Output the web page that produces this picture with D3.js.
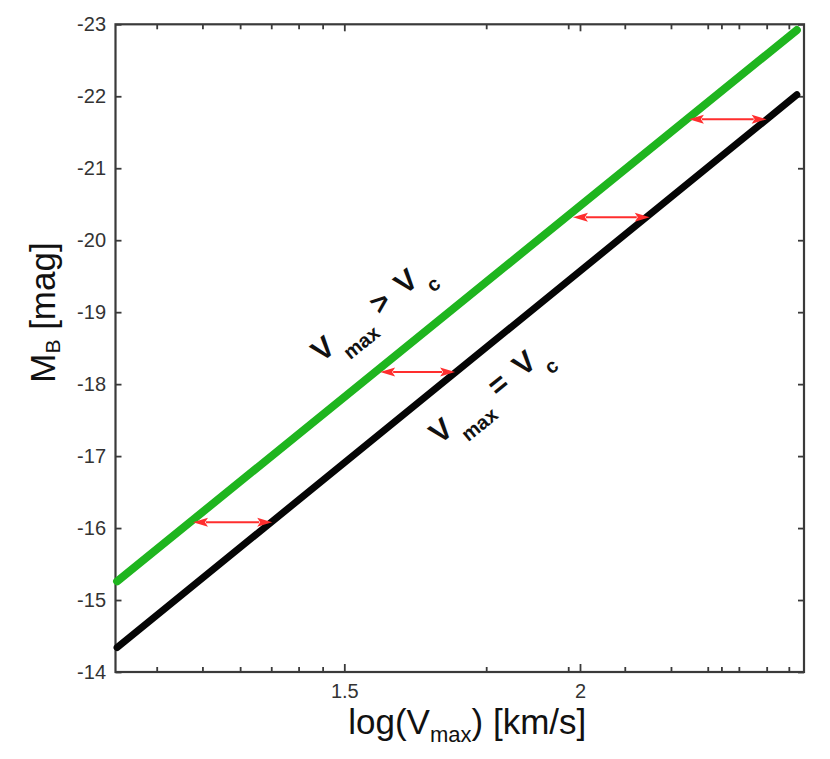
<!DOCTYPE html>
<html>
<head>
<meta charset="utf-8">
<script src="https://cdn.jsdelivr.net/npm/d3@7"></script>
<style>
  html, body { margin: 0; padding: 0; background: #fff; }
  svg { display: block; }
  text { font-family: "Liberation Sans", Arial, Helvetica, sans-serif; }
</style>
</head>
<body>
<svg id="chart" width="830" height="759"></svg>
<script>
// ---------- data ----------
const xDomain = [1.0146, 2.4752];
const yDomain = [-14, -23];

const yTicks = [-14, -15, -16, -17, -18, -19, -20, -21, -22, -23];
const yTickLabels = ["-14", "-15", "-16", "-17", "-18", "-19", "-20", "-21", "-22", "-23"];
const xMajorTicks = [1.5, 2];
const xMajorLabels = ["1.5", "2"];
const xMinorTicks = [1.102, 1.199, 1.279, 1.345, 1.403, 1.454, 1.801, 1.975,
                     2.095, 2.193, 2.271, 2.300, 2.337, 2.396, 2.443];

// line endpoints: log(Vmax) and M_B
const lineLogV = [1.018, 2.460];
const greenM   = [-15.26, -22.92];   // Vmax > Vc
const blackM   = [-14.34, -22.02];   // Vmax = Vc

// red double arrows between the two relations
const arrowM    = [-16.08, -18.17, -20.32, -21.68];
const arrowFrom = [1.179, 1.576, 1.985, 2.231];
const arrowTo   = [1.347, 1.735, 2.148, 2.396];

// rotated labels (anchor in data coordinates)
const labelLogV = [1.4516, 1.702];
const labelM    = [-18.293, -17.154];
const labelOp   = [">", "="];

// ---------- layout ----------
const svg = d3.select("#chart");
const plot = { left: 115.5, right: 804, top: 24.3, bottom: 672 };

const x = d3.scaleLinear().domain(xDomain).range([plot.left, plot.right]);
const y = d3.scaleLinear().domain(yDomain).range([plot.bottom, plot.top]);

const axisColor = "#3a3a3a";
const tickFont = "20px";

// ---------- axes ----------
function styleAxis(g) {
  g.select(".domain").remove();
  g.selectAll(".tick line").attr("stroke", axisColor).attr("stroke-width", 1.8);
  g.selectAll(".tick text").attr("fill", "#333").style("font-size", tickFont);
}

// left
svg.append("g")
  .attr("transform", `translate(${plot.left},0)`)
  .call(d3.axisLeft(y).tickValues(yTicks).tickSize(-6).tickPadding(9.5)
        .tickFormat((d, i) => yTickLabels[i]))
  .call(styleAxis);
// right
svg.append("g")
  .attr("transform", `translate(${plot.right},0)`)
  .call(d3.axisRight(y).tickValues(yTicks).tickSize(-6).tickFormat(""))
  .call(styleAxis);
// bottom major
svg.append("g")
  .attr("transform", `translate(0,${plot.bottom})`)
  .call(d3.axisBottom(x).tickValues(xMajorTicks).tickSize(-8).tickPadding(11.5)
        .tickFormat((d, i) => xMajorLabels[i]))
  .call(styleAxis);
// bottom minor
svg.append("g")
  .attr("transform", `translate(0,${plot.bottom})`)
  .call(d3.axisBottom(x).tickValues(xMinorTicks).tickSize(-5).tickFormat(""))
  .call(g => g.selectAll("text").remove())
  .call(styleAxis);
// top major + minor
svg.append("g")
  .attr("transform", `translate(0,${plot.top})`)
  .call(d3.axisTop(x).tickValues(xMajorTicks).tickSize(-7).tickFormat(""))
  .call(g => g.selectAll("text").remove())
  .call(styleAxis);
svg.append("g")
  .attr("transform", `translate(0,${plot.top})`)
  .call(d3.axisTop(x).tickValues(xMinorTicks).tickSize(-5).tickFormat(""))
  .call(g => g.selectAll("text").remove())
  .call(styleAxis);

// frame
svg.append("rect")
  .attr("x", plot.left).attr("y", plot.top)
  .attr("width", plot.right - plot.left).attr("height", plot.bottom - plot.top)
  .attr("fill", "none").attr("stroke", axisColor).attr("stroke-width", 2.2);

// ---------- lines ----------
const lineGen = d3.line().x(d => x(d[0])).y(d => y(d[1]));
const blackPts = lineLogV.map((v, i) => [v, blackM[i]]);
const greenPts = lineLogV.map((v, i) => [v, greenM[i]]);

svg.append("path").datum(blackPts).attr("d", lineGen)
  .attr("fill", "none").attr("stroke", "#050505").attr("stroke-width", 7).attr("stroke-linecap", "round");
svg.append("path").datum(greenPts).attr("d", lineGen)
  .attr("fill", "none").attr("stroke", "#1fb51f").attr("stroke-width", 8).attr("stroke-linecap", "round");

// ---------- arrows ----------
const red = "#ff2e2e";
const headLen = 15, headHalf = 4.5;
const arrows = arrowM.map((m, i) => ({ m, a: arrowFrom[i], b: arrowTo[i] }));
const ag = svg.append("g");
arrows.forEach(d => {
  const x1 = x(d.a), x2 = x(d.b), yy = y(d.m);
  ag.append("line")
    .attr("x1", x1 + headLen - 2).attr("x2", x2 - headLen + 2)
    .attr("y1", yy).attr("y2", yy)
    .attr("stroke", red).attr("stroke-width", 2);
  ag.append("path")
    .attr("d", `M${x1},${yy} L${x1 + headLen},${yy - headHalf} L${x1 + headLen - 3},${yy} L${x1 + headLen},${yy + headHalf} Z`)
    .attr("fill", red);
  ag.append("path")
    .attr("d", `M${x2},${yy} L${x2 - headLen},${yy - headHalf} L${x2 - headLen + 3},${yy} L${x2 - headLen},${yy + headHalf} Z`)
    .attr("fill", red);
});

// ---------- rotated labels ----------
const angle = Math.atan2(y(greenM[1]) - y(greenM[0]), x(lineLogV[1]) - x(lineLogV[0])) * 180 / Math.PI;
labelLogV.forEach((v, i) => {
  const g = svg.append("g")
    .attr("transform", `translate(${x(v)},${y(labelM[i])}) rotate(${angle})`);
  const t = g.append("text").attr("fill", "#111").style("font-weight", "bold");
  t.append("tspan").attr("x", 0).attr("y", 0).style("font-size", "30px").text("V");
  t.append("tspan").attr("x", 24).attr("y", 16).style("font-size", "20px").text("max");
  t.append("tspan").attr("x", 75).attr("y", 0).style("font-size", "30px").text(labelOp[i]);
  t.append("tspan").attr("x", 107).attr("y", 0).style("font-size", "30px").text("V");
  t.append("tspan").attr("x", 131).attr("y", 16).style("font-size", "20px").text("c");
});

// ---------- axis titles ----------
const xt = svg.append("text")
  .attr("x", (plot.left + plot.right) / 2 + 7.5).attr("y", 734)
  .attr("text-anchor", "middle").attr("fill", "#111").style("font-size", "35px");
xt.append("tspan").text("log(V");
xt.append("tspan").attr("dy", 8).style("font-size", "22px").text("max");
xt.append("tspan").attr("dy", -8).text(") [km/s]");

const yt = svg.append("text")
  .attr("transform", `translate(55,${(plot.top + plot.bottom) / 2 - 35.6}) rotate(-90)`)
  .attr("text-anchor", "middle").attr("fill", "#111").style("font-size", "35px");
yt.append("tspan").text("M");
yt.append("tspan").attr("dy", 5).style("font-size", "21px").text("B");
yt.append("tspan").attr("dy", -5).text(" [mag]");
</script>
</body>
</html>
